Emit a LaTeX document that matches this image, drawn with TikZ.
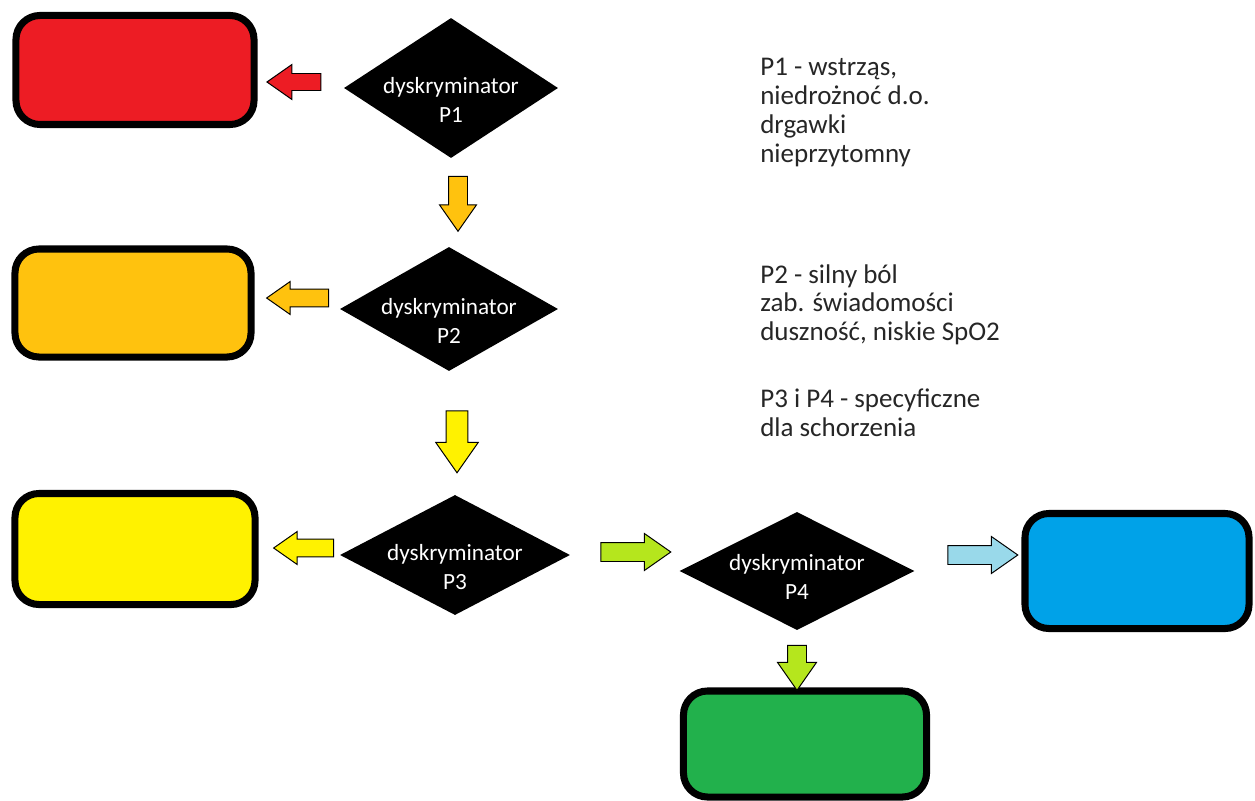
\documentclass[tikz,border=0pt]{standalone}
\usepackage{fontspec}
\setmainfont{Carlito}
\usetikzlibrary{positioning, shapes.geometric, shapes.arrows}
\definecolor{triageRed}{HTML}{ED1C24}
\definecolor{triageOrange}{HTML}{FFC20E}
\definecolor{triageYellow}{HTML}{FFF200}
\definecolor{triageGreen}{HTML}{22B14C}
\definecolor{triageBlue}{HTML}{00A2E8}
\definecolor{arrowLime}{HTML}{B5E61D}
\definecolor{arrowSky}{HTML}{99D9EA}
\definecolor{noteGrey}{HTML}{262626}

\tikzset{
  catbox/.style={draw=black, line width=5pt, rounded corners=0.6cm},
  discr/.style={diamond, fill=black, inner sep=0pt},
  discrtext/.style={inner sep=0pt, text=white, align=center,
    font=\fontsize{16.5}{20.5}\selectfont},
  blockarr/.style={single arrow, draw=black, line width=0.7pt, inner xsep=0pt,
    single arrow tip angle=70, single arrow head indent=0pt},
  note/.style={anchor=north west, inner sep=0pt, align=left, text=noteGrey,
    font=\fontsize{19.2}{20.6}\selectfont}
}

\begin{document}
\begin{tikzpicture}[x=0.025cm, y=-0.025cm]
    \useasboundingbox (0,0) rectangle (1255,801);
    % kategorie
    \node[catbox, fill=triageRed, minimum width=5.95cm, minimum height=2.725cm] (kred) at (135,70) {};
    \node[catbox, fill=triageOrange, minimum width=5.9cm, minimum height=2.7cm] (korange) at (133,303) {};
    \node[catbox, fill=triageYellow, minimum width=6.0cm, minimum height=2.775cm] (kyellow) at (135,549) {};
    \node[catbox, fill=triageBlue, minimum width=5.6cm, minimum height=2.875cm] (kblue) at (1137,571) {};
    \node[catbox, fill=triageGreen, minimum width=6.075cm, minimum height=2.65cm] (kgreen) at (805,744) {};
    % dyskryminatory
    \node[discr, minimum width=5.35cm, minimum height=3.5cm] (d1) at (451,88) {};
    \node[discr, minimum width=5.45cm, minimum height=3.1cm] (d2) at (449,309) {};
    \node[discr, minimum width=5.75cm, minimum height=3.0cm] (d3) at (455,555) {};
    \node[discr, minimum width=5.875cm, minimum height=2.95cm] (d4) at (797,571) {};
    \node[discrtext] (t1) at ([yshift=-0.3cm]d1.center) {dyskryminator\\P1};
    \node[discrtext] (t2) at ([yshift=-0.3cm]d2.center) {dyskryminator\\P2};
    \node[discrtext] (t3) at ([yshift=-0.3cm]d3.center) {dyskryminator\\P3};
    \node[discrtext] (t4) at ([yshift=-0.15cm]d4.center) {dyskryminator\\P4};
    % strzalki
    \node[blockarr, fill=triageRed, rotate=180, minimum height=1.35cm, inner ysep=0.2cm,
      single arrow head extend=0.225cm] (a1) at (300,82) {};
    \node[blockarr, fill=triageOrange, rotate=-90, minimum height=1.375cm, inner ysep=0.225cm,
      single arrow head extend=0.225cm] (a12) at (458,197) {};
    \node[blockarr, fill=triageOrange, rotate=180, minimum height=1.55cm, inner ysep=0.21cm,
      single arrow head extend=0.19cm] (a2) at (304,298) {};
    \node[blockarr, fill=triageYellow, rotate=-90, minimum height=1.55cm, inner ysep=0.26cm,
      single arrow head extend=0.26cm] (a23) at (457,434) {};
    \node[blockarr, fill=triageYellow, rotate=180, minimum height=1.5cm, inner ysep=0.21cm,
      single arrow head extend=0.19cm] (a3) at (310,548) {};
    \node[blockarr, fill=arrowLime, minimum height=1.75cm, inner ysep=0.225cm,
      single arrow head extend=0.225cm] (a34) at (629,552) {};
    \node[blockarr, fill=arrowSky, minimum height=1.75cm, inner ysep=0.225cm,
      single arrow head extend=0.225cm] (a4b) at (976,555) {};
    \node[blockarr, fill=arrowLime, rotate=-90, minimum height=1.125cm, inner ysep=0.225cm,
      single arrow head extend=0.25cm] (a4g) at (797,661) {};
    % opisy
    \node[note] (np1) at (760,58) {P1 - wstrząs,\\niedrożnoć d.o.\\drgawki\\nieprzytomny};
    \node[note] (np2) at (760,264) {P2 - silny ból\\zab. świadomości\\duszność, niskie SpO2};
    \node[note] (np34) at (760,389) {P3 i P4 - specyficzne\\dla schorzenia};
  \end{tikzpicture}
\end{document}
